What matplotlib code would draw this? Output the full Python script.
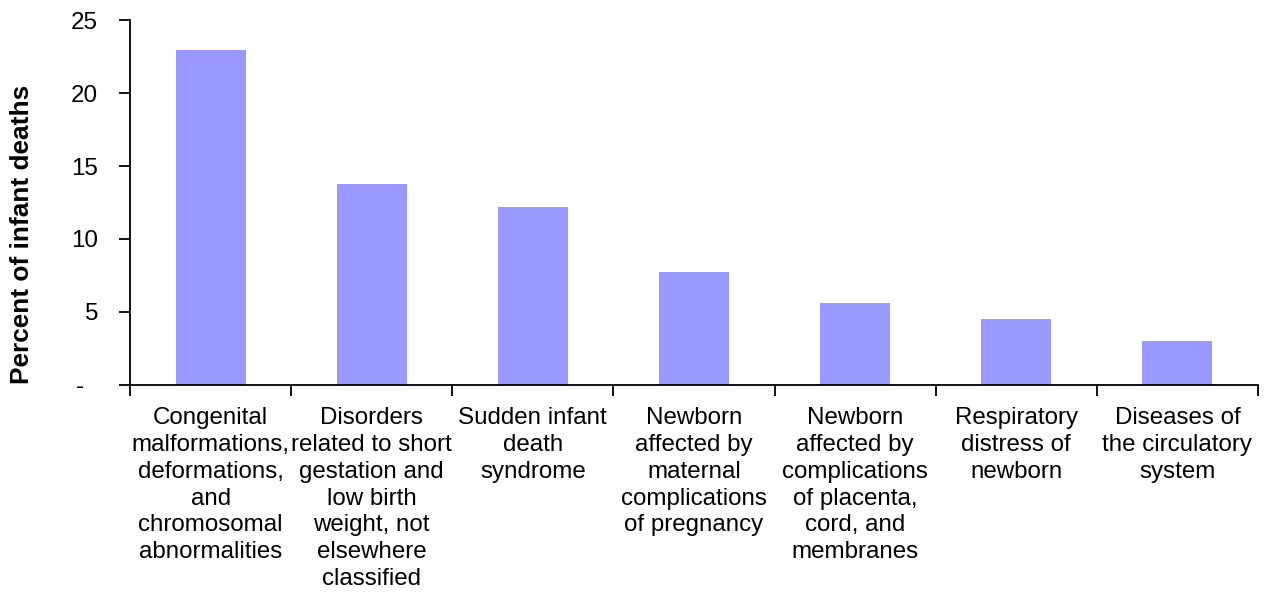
import matplotlib
matplotlib.use("Agg")
import matplotlib.pyplot as plt
import matplotlib.transforms as mtransforms
import numpy as np

plt.rcParams['font.family'] = ['Liberation Sans', 'DejaVu Sans']

causes = [
    "Congenital\nmalformations,\ndeformations,\nand\nchromosomal\nabnormalities",
    "Disorders\nrelated to short\ngestation and\nlow birth\nweight, not\nelsewhere\nclassified",
    "Sudden infant\ndeath\nsyndrome",
    "Newborn\naffected by\nmaternal\ncomplications\nof pregnancy",
    "Newborn\naffected by\ncomplications\nof placenta,\ncord, and\nmembranes",
    "Respiratory\ndistress of\nnewborn",
    "Diseases of\nthe circulatory\nsystem",
]
percent = [23.0, 13.8, 12.2, 7.7, 5.6, 4.5, 3.0]
y_ticks = [0, 5, 10, 15, 20, 25]
y_tick_labels = ["-", "5", "10", "15", "20", "25"]

fig = plt.figure(figsize=(12.67, 5.92), dpi=100)
ax = fig.add_axes([0.1026, 0.3505, 0.8903, 0.6149])

x = np.arange(len(causes))
ax.bar(x, percent, width=0.435, color="#9999FF", edgecolor="none", zorder=2)

ax.set_xlim(-0.5, len(causes) - 0.5)
ax.set_ylim(0, 25)

# category labels centred under each bar, tick marks on the boundaries
ax.set_xticks(x)
ax.set_xticklabels(causes, fontsize=17.4, linespacing=1.29)
ax.tick_params(axis="x", which="major", length=0, pad=16)
ax.set_xticks(np.arange(len(causes) + 1) - 0.5, minor=True)
ax.tick_params(axis="x", which="minor", length=8, width=1.3, direction="out")

ax.set_yticks(y_ticks)
ax.set_yticklabels(y_tick_labels, fontsize=17.4)
ax.tick_params(axis="y", length=8, width=1.3, direction="out", pad=15)
# the zero label sits a little left of the digits' right edge
zero_lbl = ax.get_yticklabels()[0]
zero_lbl.set_transform(zero_lbl.get_transform() +
                       mtransforms.ScaledTranslation(-14 / 100, 0, fig.dpi_scale_trans))

for side in ("top", "right"):
    ax.spines[side].set_visible(False)
for side in ("left", "bottom"):
    ax.spines[side].set_linewidth(1.3)

ax.set_ylabel("Percent of infant deaths", fontsize=18.9, fontweight="bold")
ax.yaxis.set_label_coords(-0.0855, 0.413)

fig.savefig("out.png", dpi=100)
